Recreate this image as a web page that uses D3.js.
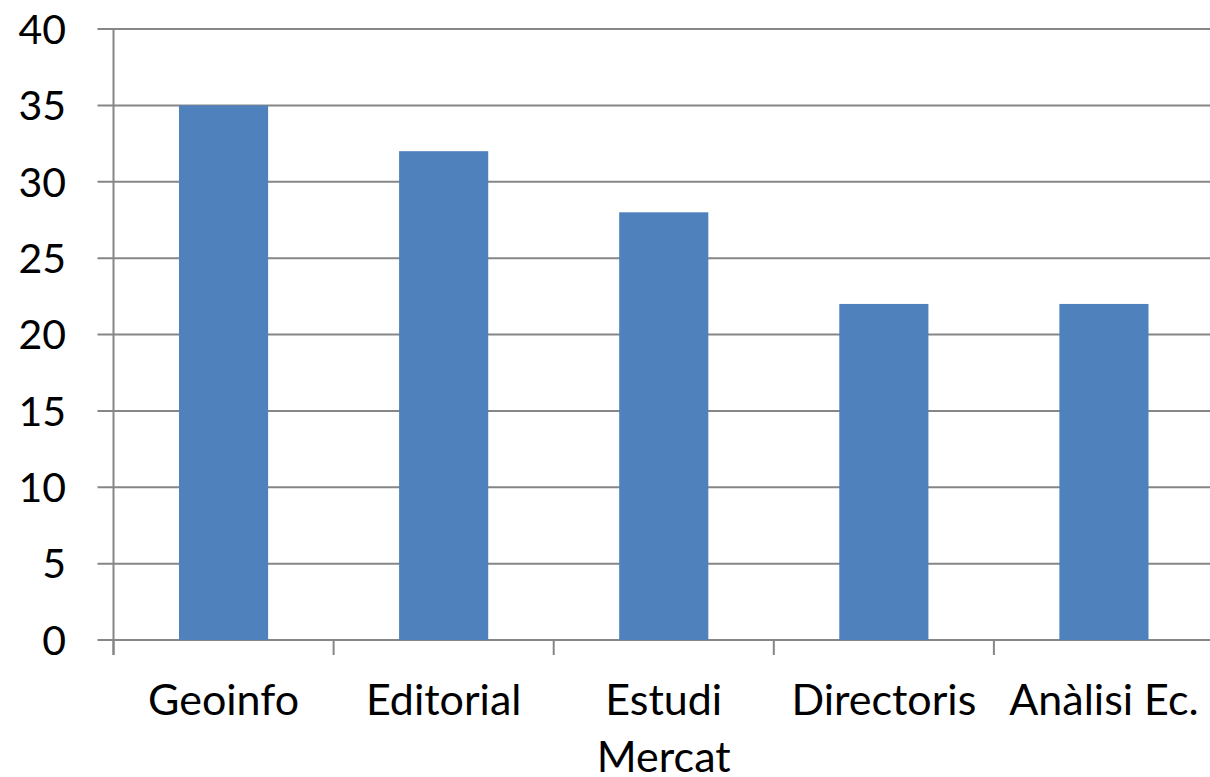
<!DOCTYPE html>
<html>
<head>
<meta charset="utf-8">
<script src="https://cdn.jsdelivr.net/npm/d3@7"></script>
<style>
  body { margin: 0; background: #fff; }
  text { font-family: Lato, "Open Sans", sans-serif; fill: #000; }
</style>
</head>
<body>
<div id="chart"></div>
<script>
// chart values
const categories = ['Geoinfo', 'Editorial', 'Estudi Mercat', 'Directoris', 'Anàlisi Ec.'];
const values = [35, 32, 28, 22, 22];
const yTicks = [0, 5, 10, 15, 20, 25, 30, 35, 40];

const width = 1210, height = 777;
const margin = {left: 113.5, right: -4, top: 29, bottom: 137};

const svg = d3.select('#chart')
    .append('svg')
    .attr('width', width)
    .attr('height', height);

const x = d3.scaleBand()
    .domain(categories)
    .range([margin.left, width - margin.right])
    .paddingInner(0.595)
    .paddingOuter(0.2975);

// band without padding, for the tick marks between categories
const xTick = d3.scaleBand()
    .domain(categories)
    .range([margin.left, width - margin.right]);

const y = d3.scaleLinear()
    .domain([0, 40])
    .range([height - margin.bottom, margin.top]);

const gridColor = '#868686';

// horizontal grid + y ticks
svg.append('g')
  .selectAll('line')
  .data(yTicks)
  .join('line')
    .attr('x1', margin.left - 16)
    .attr('x2', width - margin.right)
    .attr('y1', d => y(d))
    .attr('y2', d => y(d))
    .attr('stroke', gridColor)
    .attr('stroke-width', 2);

svg.append('g')
  .selectAll('text')
  .data(yTicks)
  .join('text')
    .attr('x', 66)
    .attr('y', d => y(d))
    .attr('dy', '0.36em')
    .attr('text-anchor', 'end')
    .style('font-size', '41px')
    .text(d => d);

// bars
svg.append('g')
  .selectAll('rect')
  .data(values)
  .join('rect')
    .attr('x', (d, i) => x(categories[i]))
    .attr('width', x.bandwidth())
    .attr('y', d => y(d))
    .attr('height', d => y(0) - y(d))
    .attr('fill', '#4F81BD');

// y axis line
svg.append('line')
    .attr('x1', margin.left).attr('x2', margin.left)
    .attr('y1', y(40)).attr('y2', y(0) + 15)
    .attr('stroke', gridColor)
    .attr('stroke-width', 2);

// x tick marks at category boundaries
svg.append('g')
  .selectAll('line')
  .data(categories)
  .join('line')
    .attr('x1', d => xTick(d))
    .attr('x2', d => xTick(d))
    .attr('y1', y(0))
    .attr('y2', y(0) + 15)
    .attr('stroke', gridColor)
    .attr('stroke-width', 2);

// category labels, wrapped when wider than the band
const labels = svg.append('g')
  .selectAll('text')
  .data(categories)
  .join('text')
    .attr('x', d => xTick(d) + xTick.bandwidth() / 2)
    .attr('y', 715)
    .attr('text-anchor', 'middle')
    .style('font-size', '43px')
    .text(d => d);

labels.each(function(d) {
    const t = d3.select(this);
    if (this.getComputedTextLength() > xTick.bandwidth() - 6) {
        const words = d.split(' ');
        t.text(null);
        words.forEach((w, i) => {
            t.append('tspan')
              .attr('x', xTick(d) + xTick.bandwidth() / 2)
              .attr('dy', i === 0 ? 0 : 57)
              .text(w);
        });
    }
});
</script>
</body>
</html>
